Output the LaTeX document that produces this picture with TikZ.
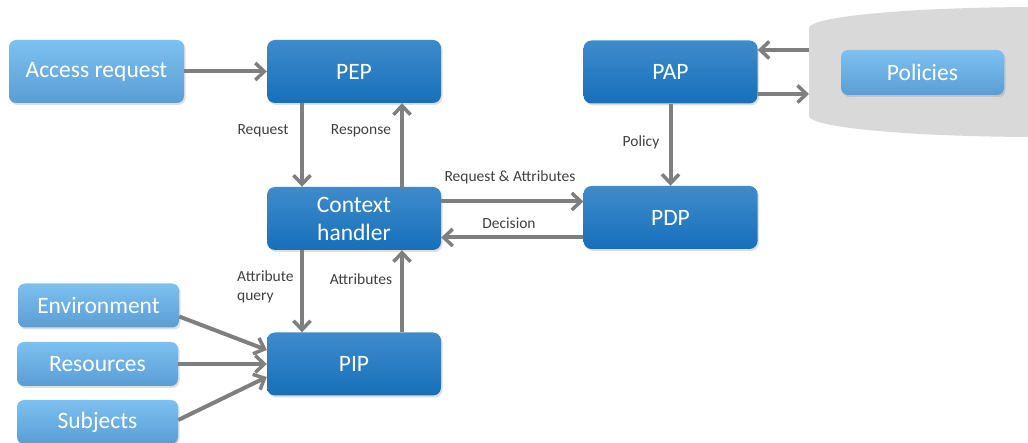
\documentclass[tikz,border=0pt]{standalone}
\usepackage{fontspec}
\setmainfont{Carlito}
\usetikzlibrary{arrows.meta,shadows}
\definecolor{darkA}{HTML}{3F8BCB}
\definecolor{darkB}{HTML}{1670BA}
\definecolor{lightA}{HTML}{7DC1F1}
\definecolor{lightB}{HTML}{5A9DD4}
\definecolor{arr}{HTML}{7F7F7F}
\definecolor{lab}{HTML}{404040}
\definecolor{cyl}{HTML}{D9D9D9}
\tikzset{
  darkbox/.style={rounded corners=8pt, top color=darkA, bottom color=darkB, draw=none,
    minimum width=174pt, minimum height=63pt, text=white, font=\fontsize{23.5}{28}\selectfont,
    align=center, inner sep=2pt, drop shadow={shadow xshift=1.5pt, shadow yshift=-2pt, opacity=0.25}},
  lightbox/.style={rounded corners=7pt, top color=lightA, bottom color=lightB, draw=none,
    minimum width=161pt, minimum height=44pt, text=white, font=\fontsize{23.5}{28}\selectfont,
    inner sep=2pt, drop shadow={shadow xshift=1.5pt, shadow yshift=-2pt, opacity=0.25}},
  conn/.style={draw=arr, line width=4pt, -{Straight Barb[length=9pt, width=17pt, line width=3.5pt]}},
  lbl/.style={text=lab, font=\fontsize{15.5}{19}\selectfont, inner sep=0pt},
}
\begin{document}
\begin{tikzpicture}[x=1pt, y=-1pt]
\useasboundingbox (0,0) rectangle (1028,443);
\begin{scope}
\clip (0,0) rectangle (1028,443);
\fill[cyl] (809,28) -- (809,116) arc[start angle=180, end angle=0, x radius=232, y radius=21]
  -- (1273,28) arc[start angle=0, end angle=-180, x radius=232, y radius=21] -- cycle;
\end{scope}

\node[lightbox, minimum width=175pt, minimum height=63pt] (acc) at (96.5,71.5) {Access request};
\node[darkbox] (pep) at (354,71.5) {PEP};
\node[darkbox] (pap) at (670.5,72) {PAP};
\node[lightbox, minimum width=163pt, minimum height=45pt] (pol) at (922.5,72.5) {Policies};
\node[darkbox] (ctx) at (354,218.5) {Context\\handler};
\node[darkbox] (pdp) at (670.5,217.5) {PDP};
\node[darkbox] (pip) at (354,364) {PIP};
\node[lightbox] (env) at (98.5,305.5) {Environment};
\node[lightbox] (res) at (97.5,364) {Resources};
\node[lightbox] (sub) at (97.5,422) {Subjects};
\coordinate (cylL) at (809,72);

\draw[conn] (acc.east) -- (pep.west);
\draw[conn] ([xshift=-52pt]pep.south) -- ([xshift=-52pt]ctx.north);
\draw[conn] ([xshift=48pt]ctx.north) -- ([xshift=48pt]pep.south);
\draw[conn] ([yshift=17pt]ctx.east) -- ([yshift=17pt]ctx.east -| pdp.west);
\draw[conn] ([yshift=-20pt]pdp.west) -- ([yshift=-20pt]pdp.west -| ctx.east);
\draw[conn] (pap.south) -- (pdp.north);
\draw[conn] ([yshift=22pt]cylL) -- ([yshift=22pt]cylL -| pap.east);
\draw[conn] ([yshift=-22pt]cylL -| pap.east) -- ([yshift=-22pt]cylL);
\draw[conn] ([xshift=-52pt]ctx.south) -- ([xshift=-52pt]pip.north);
\draw[conn] ([xshift=48pt]pip.north) -- ([xshift=48pt]ctx.south);
\draw[conn] ([yshift=-11pt]env.east) -- ([yshift=14pt]pip.west);
\draw[conn] (res.east) -- (pip.west);
\draw[conn] ([yshift=2pt]sub.east) -- ([yshift=-13pt]pip.west);

\node[lbl] (l1) at (263,131) {Request};
\node[lbl] (l2) at (361,131) {Response};
\node[lbl] (l3) at (641,142) {Policy};
\node[lbl] (l4) at (510,177) {Request \& Attributes};
\node[lbl] (l5) at (509,223) {Decision};
\node[lbl, align=left, anchor=north west] (l6) at (237,271) {Attribute\\query};
\node[lbl] (l7) at (361,279) {Attributes};
\end{tikzpicture}
\end{document}
